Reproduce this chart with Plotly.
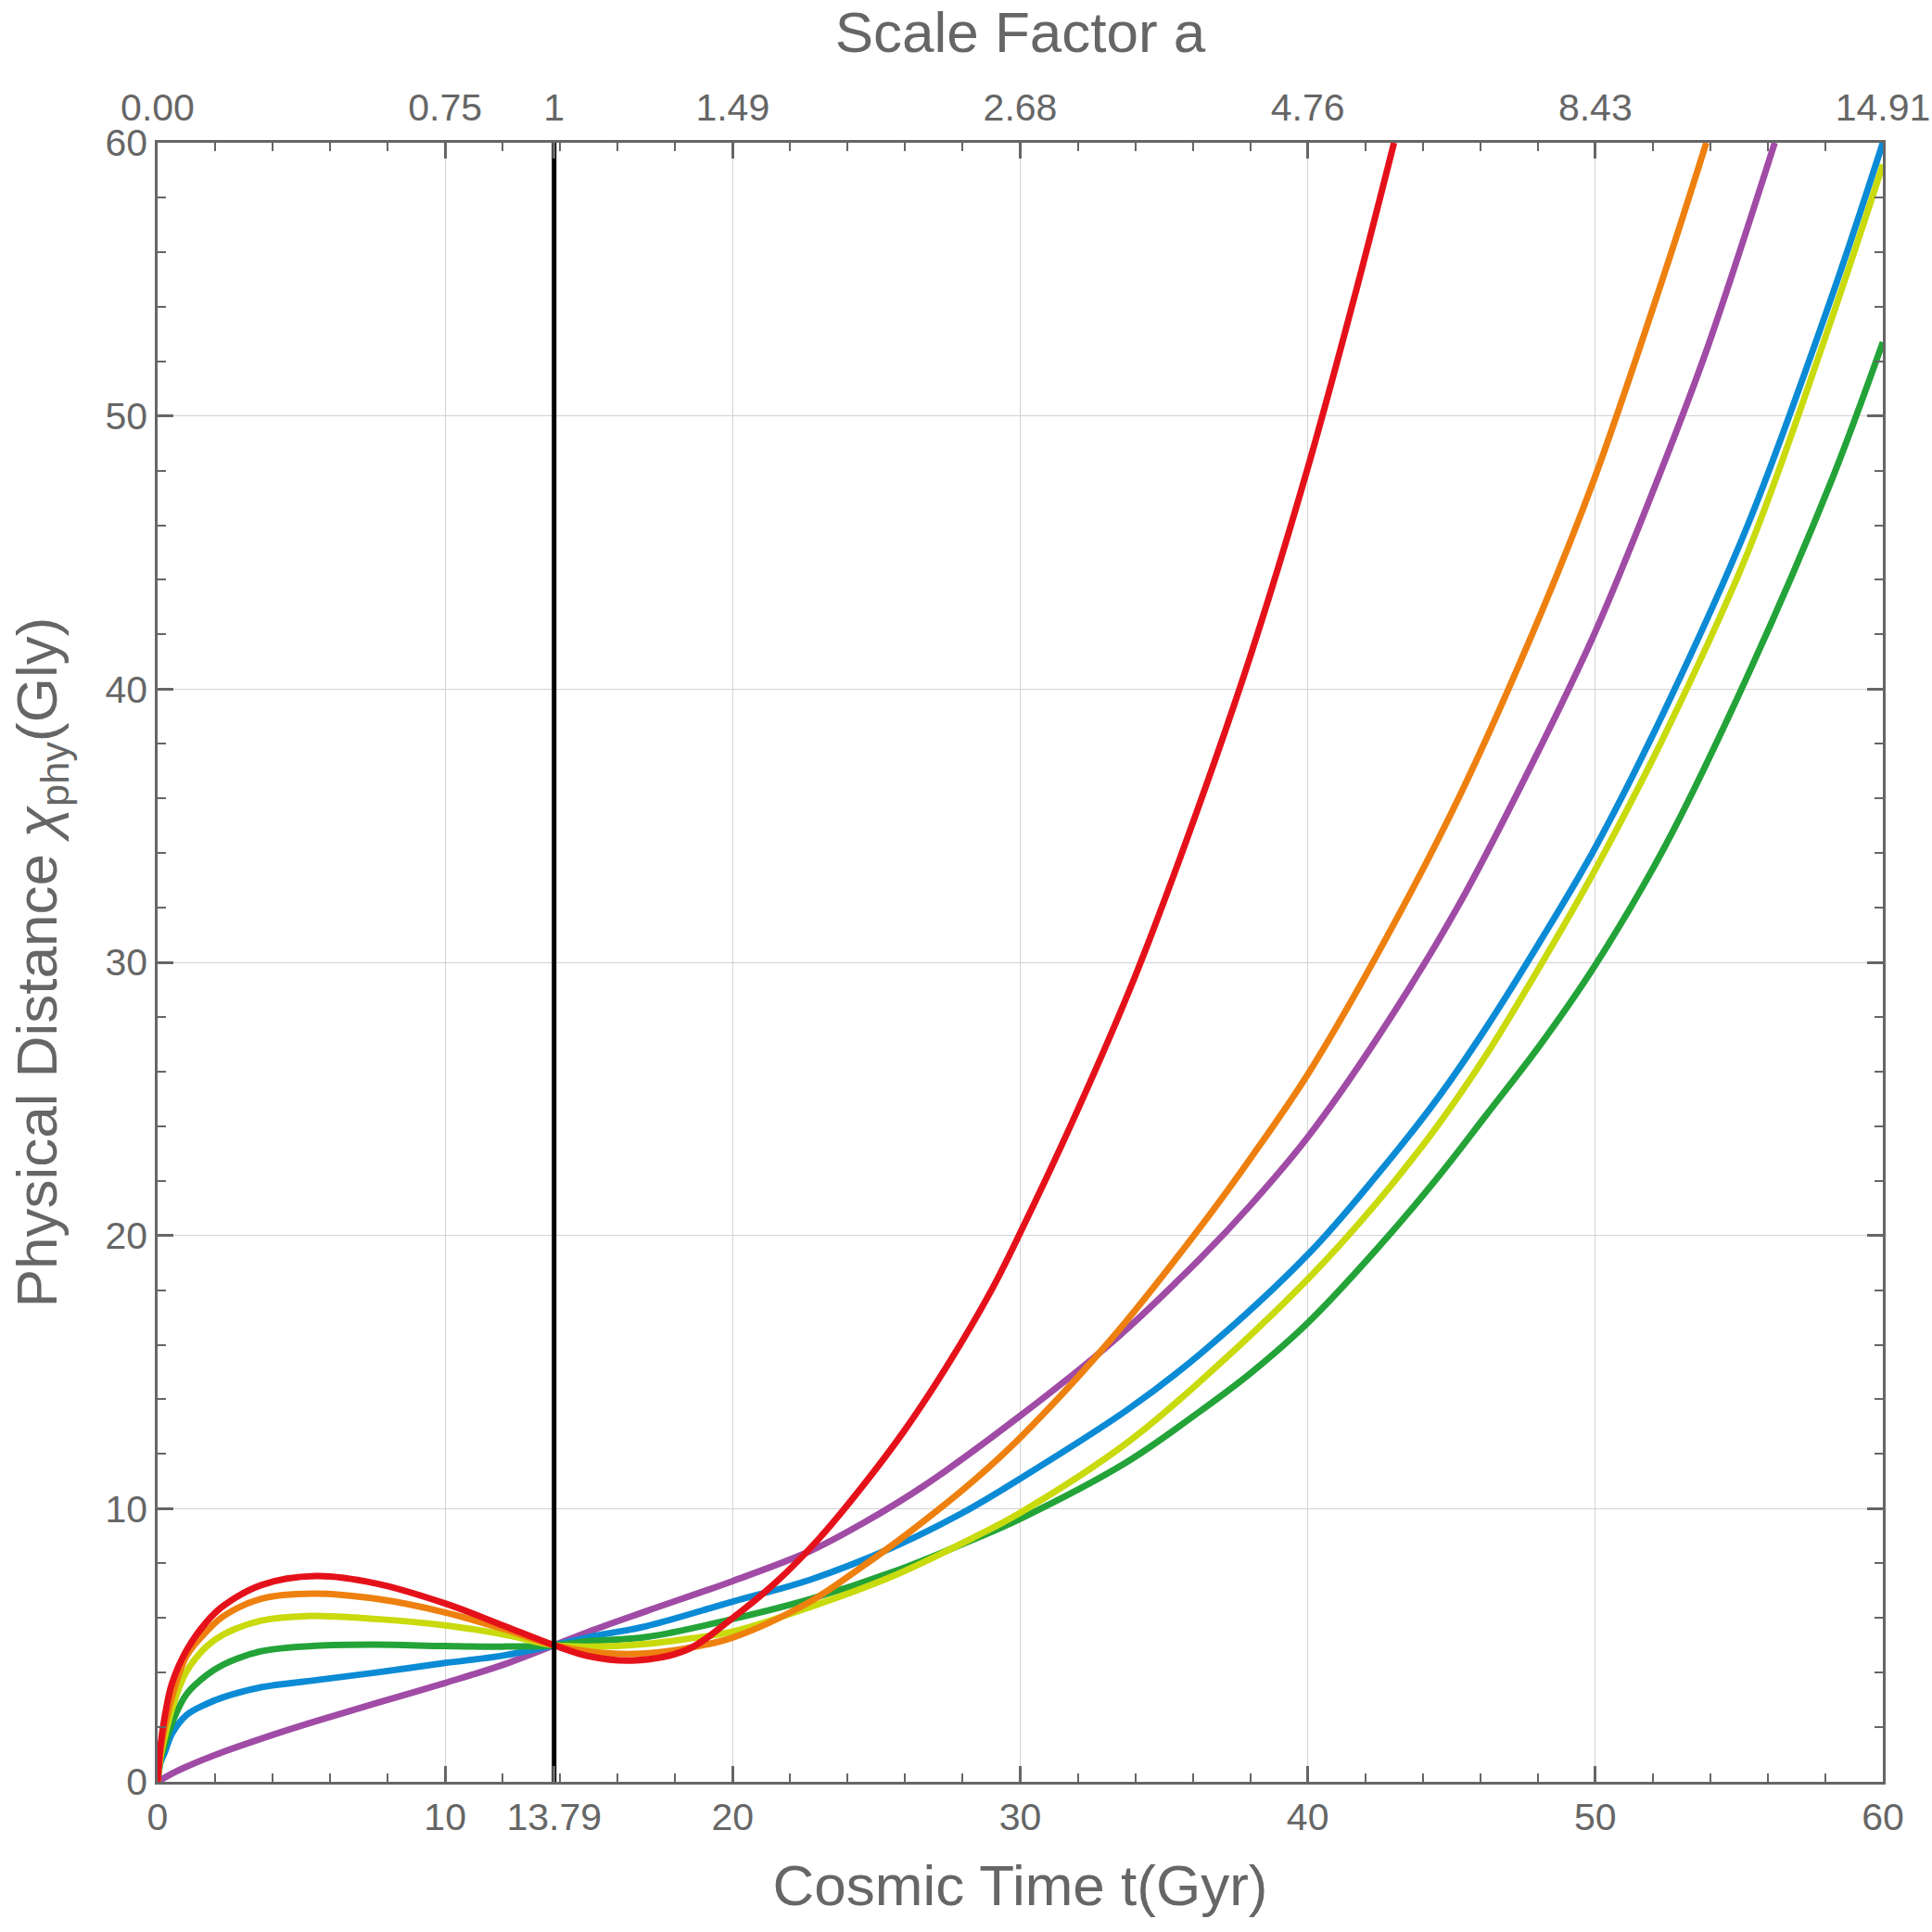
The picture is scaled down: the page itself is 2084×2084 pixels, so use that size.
import plotly.graph_objects as go

# values
t_now = 13.79

t_purple = [0, 0.5, 1, 2.3, 4, 5.5, 7.6, 10, 12, 13.79, 15, 17, 20, 22.7, 24.5, 26.6, 30, 33.2, 36.3, 38,
            40, 42.4, 45.2, 48.1, 50, 52.4, 53.9, 56.24]
y_purple = [0, 0.3, 0.55, 1.1, 1.72, 2.22, 2.88, 3.62, 4.28, 5, 5.5, 6.25, 7.35, 8.45, 9.45, 10.8, 13.4, 16.1,
            19.2, 21.1, 23.6, 27.2, 32.0, 37.9, 42.1, 48.3, 52.5, 60]

t_blue = [0, 0.1, 0.25, 0.5, 1, 1.7, 2.3, 3.6, 5.5, 7.6, 10, 12, 13.79, 15, 17, 20, 22.7, 25.5, 28, 30,
          33.7, 36.3, 40, 42.4, 44.5, 46.2, 48.1, 50, 52.4, 55.3, 58.2, 60]
y_blue = [0, 0.7, 1.08, 1.76, 2.44, 2.85, 3.1, 3.46, 3.72, 4.0, 4.35, 4.62, 5, 5.3, 5.7, 6.6, 7.4, 8.55, 9.85,
          11.1, 13.6, 15.7, 19.3, 22.2, 25.0, 27.6, 30.8, 34.2, 39.2, 46.0, 54.3, 60]

t_green = [0, 0.1, 0.25, 0.5, 1, 1.7, 2.3, 3.6, 5.5, 7.6, 10, 12, 13.79, 15, 17, 20, 22.7, 25.8, 28.3, 30,
           33.7, 36.3, 38, 40, 42.4, 44.5, 46.2, 48.1, 50, 52.4, 55.3, 58.2, 60]
y_green = [0, 0.8, 1.35, 2.15, 3.2, 3.9, 4.3, 4.78, 4.98, 5.02, 4.97, 4.95, 5, 5.15, 5.3, 5.96, 6.69, 7.77, 8.84,
           9.63, 11.7, 13.6, 14.95, 16.8, 19.5, 22.1, 24.4, 27.0, 29.9, 34.2, 40.5, 47.6, 52.7]

t_yellow = [0, 0.1, 0.25, 0.5, 1, 1.7, 2.3, 3.6, 5.2, 7.6, 10, 12, 13.79, 15, 17, 18.4, 20, 22.7, 25.5, 28.3,
            30, 33.7, 36.3, 40, 42.4, 44.5, 46.2, 48.1, 50, 52.4, 55.3, 58.2, 60]
y_yellow = [0, 0.9, 1.65, 2.67, 4.03, 4.95, 5.4, 5.9, 6.07, 5.96, 5.73, 5.4, 5, 4.95, 5.05, 5.23, 5.5, 6.4,
            7.5, 8.9, 9.85, 12.4, 14.7, 18.4, 21.2, 24.0, 26.6, 29.9, 33.4, 38.3, 45.0, 53.5, 59.2]

t_orange = [0, 0.1, 0.25, 0.5, 1, 1.7, 2.3, 3.6, 5.4, 7.6, 10, 12, 13.79, 15, 16.6, 18.4, 20, 22.7, 24.4,
            26.1, 28.35, 30, 33.16, 36.33, 38.06, 40, 42.37, 45.24, 48.12, 50, 52.43, 53.86]
y_orange = [0, 1.1, 2.0, 3.1, 4.6, 5.5, 6.07, 6.7, 6.89, 6.7, 6.2, 5.6, 5, 4.77, 4.68, 4.89, 5.28, 6.6, 7.8,
            9.1, 11.0, 12.6, 16.2, 20.4, 22.9, 25.9, 30.2, 36.0, 42.8, 47.8, 55.3, 60]

t_red = [0, 0.1, 0.25, 0.5, 1, 1.7, 2.3, 3.6, 5.5, 7.6, 10, 12, 13.79, 15, 16.5, 18.4, 20, 21.5, 23,
         24.5, 26, 27.5, 29, 30, 32, 34, 36, 38, 40, 41.66, 43.0]
y_red = [0, 1.3, 2.4, 3.6, 4.8, 5.85, 6.45, 7.2, 7.53, 7.26, 6.53, 5.73, 5, 4.6, 4.44, 4.83, 6.0, 7.3, 8.9,
         10.8, 12.9, 15.3, 18.0, 20.1, 24.6, 29.5, 35.1, 41.2, 48.1, 54.5, 60]

bottom_ticks = [0, 10, 13.79, 20, 30, 40, 50, 60]
bottom_labels = ["0", "10", "13.79", "20", "30", "40", "50", "60"]
top_labels = ["0.00", "0.75", "1", "1.49", "2.68", "4.76", "8.43", "14.91"]
y_ticks = [0, 10, 20, 30, 40, 50, 60]

series = [
    (t_purple, y_purple, "#A04BA5"),
    (t_blue, y_blue, "#0B8BD5"),
    (t_green, y_green, "#23A338"),
    (t_yellow, y_yellow, "#C9DA0D"),
    (t_orange, y_orange, "#EE800F"),
    (t_red, y_red, "#E5111A"),
]

grey = "#666666"
font_name = "Liberation Sans, Arial, sans-serif"

fig = go.Figure()

for t, y, c in series:
    fig.add_trace(go.Scatter(x=t, y=y, mode="lines", line=dict(color=c, width=7, shape="spline", smoothing=1),
                             showlegend=False, hoverinfo="skip"))

# today's line
fig.add_trace(go.Scatter(x=[t_now, t_now], y=[0, 60], mode="lines", line=dict(color="black", width=5),
                         showlegend=False, hoverinfo="skip"))

# invisible trace so the top axis is drawn
fig.add_trace(go.Scatter(x=[0, 60], y=[0, 0], xaxis="x2", mode="lines", line=dict(width=0),
                         showlegend=False, hoverinfo="skip"))

axis_common = dict(
    range=[0, 60],
    ticks="inside",
    ticklen=17,
    tickwidth=2.5,
    tickcolor=grey,
    showline=True,
    linecolor=grey,
    linewidth=2.5,
    automargin=False,
    tickfont=dict(family=font_name, size=41, color=grey),
    zeroline=False,
    minor=dict(dtick=2, ticks="inside", ticklen=9, tickwidth=2, tickcolor=grey, showgrid=False),
)

fig.update_layout(
    width=2084,
    height=2084,
    margin=dict(l=170, r=53, t=154, b=162),
    paper_bgcolor="white",
    plot_bgcolor="white",
    xaxis=dict(
        **axis_common,
        tickmode="array",
        tickvals=bottom_ticks,
        ticktext=bottom_labels,
        showgrid=True,
        gridcolor="#D2D2D2",
        gridwidth=1.3,
        title=dict(text="Cosmic Time t(Gyr)", font=dict(family=font_name, size=62, color=grey), standoff=30),
    ),
    xaxis2=dict(
        **axis_common,
        overlaying="x",
        side="top",
        tickmode="array",
        tickvals=bottom_ticks,
        ticktext=top_labels,
        showgrid=False,
        ticklabelstandoff=5,
        ticklabeloverflow="allow",
        title=dict(text="Scale Factor a", font=dict(family=font_name, size=62, color=grey), standoff=37),
    ),
    yaxis=dict(
        **axis_common,
        tickmode="array",
        tickvals=y_ticks,
        mirror="ticks",
        showgrid=True,
        gridcolor="#D2D2D2",
        gridwidth=1.3,
        title=dict(text="Physical Distance <i>χ</i><sub>phy</sub>(Gly)",
                   font=dict(family=font_name, size=62, color=grey), standoff=32),
    ),
)

# drop the default page margin so the figure fills the window exactly
fig.write_html("out.html", config={"displayModeBar": False},
               post_script="document.body.style.margin = '0';")
